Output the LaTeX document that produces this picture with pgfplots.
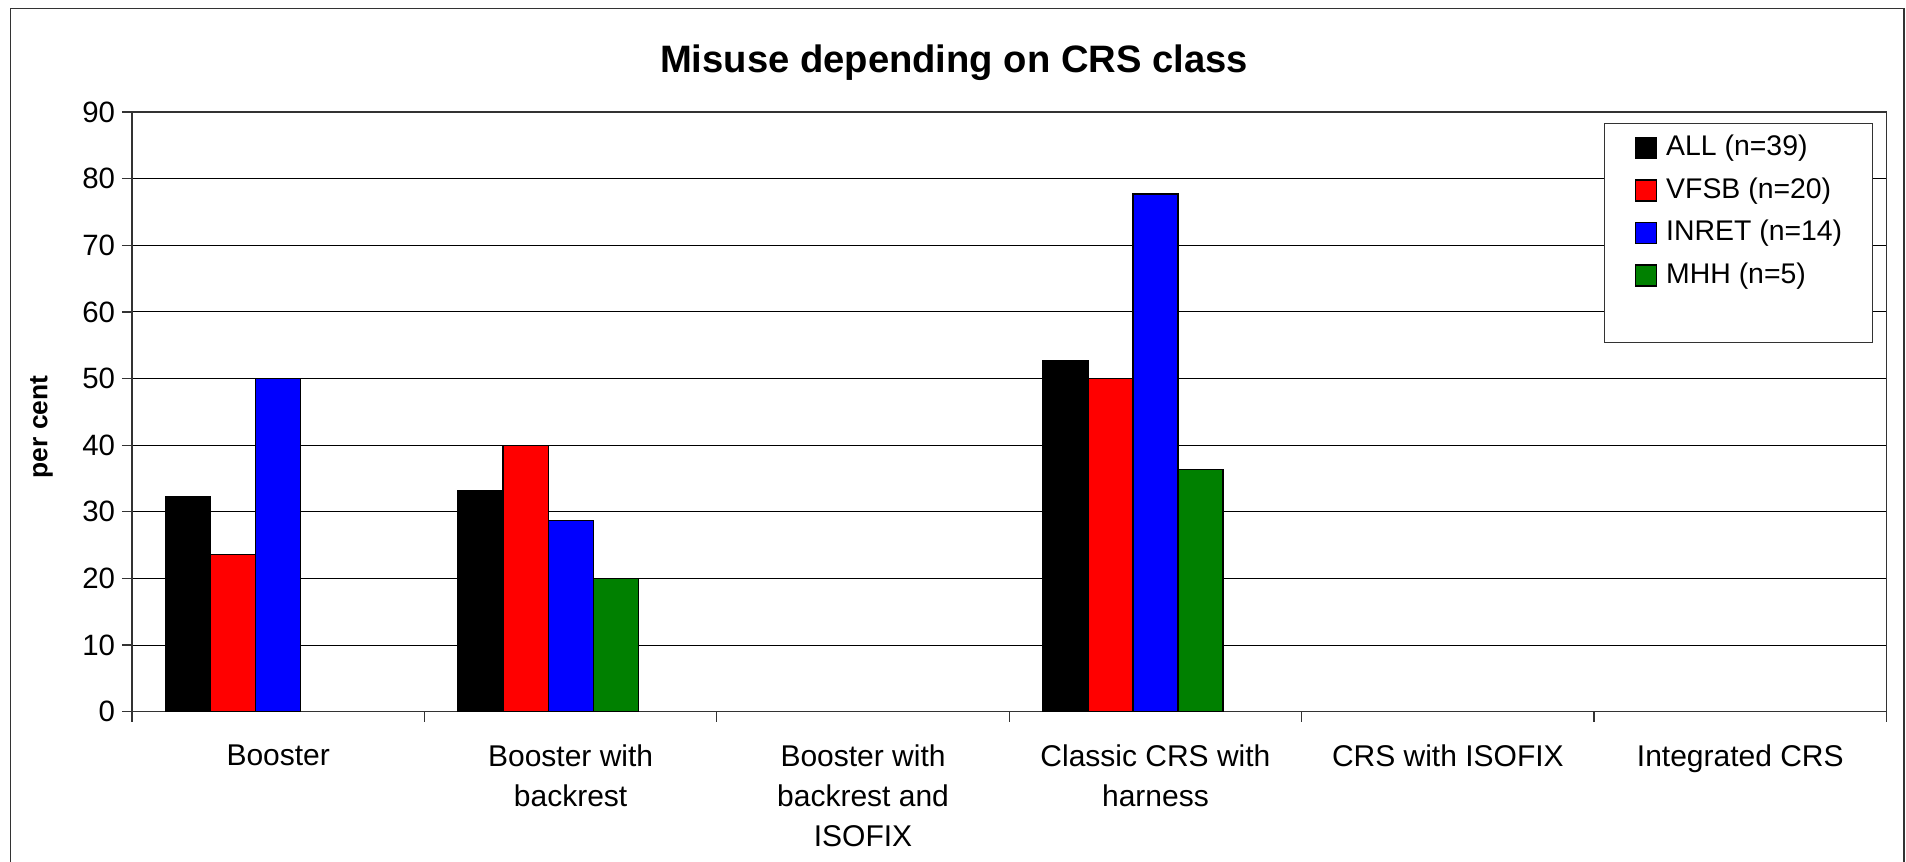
\documentclass[border=0pt]{standalone}
\usepackage{pgfplots}
\pgfplotsset{compat=1.18}
\usepackage{fontspec}
\setmainfont{Liberation Sans}
\definecolor{xlgreen}{RGB}{0,128,0}
\definecolor{xlred}{RGB}{255,0,0}
\definecolor{xlblue}{RGB}{0,0,255}
\begin{document}
\begin{tikzpicture}
\useasboundingbox (0,0) rectangle (953bp,431bp);
\draw[line width=0.8bp, black!80] (5.3bp,0) -- (5.3bp,426.8bp) -- (952bp,426.8bp) -- (952bp,0);
\node[font=\fontsize{19.1bp}{22bp}\selectfont\bfseries, anchor=base] at (477bp,394.5bp) {Misuse depending on CRS class};
\begin{axis}[
  at={(66bp,75.15bp)}, anchor=south west,
  scale only axis, width=877.25bp, height=299.85bp,
  xmin=-0.5, xmax=5.5, ymin=0, ymax=90,
  ybar, bar width=0.154,
  ytick={0,10,...,90},
  xtick={0,...,5},
  xticklabels={Booster, Booster with\\backrest, Booster with\\backrest and\\ISOFIX, Classic CRS with\\harness, CRS with ISOFIX, Integrated CRS},
  minor xtick={-0.5,0.5,...,5.5},
  major x tick style={draw=none},
  tick align=outside, major tick length=5bp, minor tick length=5bp,
  xtick pos=bottom, ytick pos=left,
  ymajorgrids, grid style={black, line width=0.5bp},
  axis line style={black!80, line width=0.7bp},
  tick style={black!80, line width=0.6bp},
  /pgf/number format/assume math mode=true,
  yticklabel style={font=\fontsize{14.7bp}{20bp}\selectfont},
  xticklabel style={font=\fontsize{15bp}{20bp}\selectfont, align=center, yshift=-8bp},
  ylabel={per cent},
  every axis y label/.style={at={(axis description cs:-0.0516,0.4747)}, rotate=90, anchor=center, font=\fontsize{13.2bp}{15bp}\selectfont\bfseries},
  legend style={at={(axis description cs:0.839,0.9817)}, anchor=north west,
    draw=black!80, line width=0.6bp, font=\fontsize{14.2bp}{16bp}\selectfont,
    inner xsep=15bp, inner ysep=5.5bp, row sep=7.75bp, cells={anchor=west},
    nodes={inner sep=0bp, text height=10.5bp, text depth=3bp},
    /tikz/every odd column/.append style={column sep=4.7bp}},
  legend image code/.code={\draw[#1, draw=black, line width=0.6bp] (0bp,-5.25bp) rectangle (10.5bp,5.25bp);},
]
\addplot[fill=black, draw=black, line width=0.6bp, bar shift=-0.308] coordinates {(0,32.3) (1,33.2) (3,52.7)};
\addlegendentry{ALL (n=39)}
\addplot[fill=xlred, draw=black, line width=0.6bp, bar shift=-0.154] coordinates {(0,23.6) (1,40.0) (3,50.0)};
\addlegendentry{VFSB (n=20)}
\addplot[fill=xlblue, draw=black, line width=0.6bp, bar shift=0] coordinates {(0,50.0) (1,28.7) (3,77.7)};
\addlegendentry{INRET (n=14)}
\addplot[fill=xlgreen, draw=black, line width=0.6bp, bar shift=0.154] coordinates {(1,20.0) (3,36.4)};
\addlegendentry{MHH (n=5)}
\addlegendimage{empty legend}
\addlegendentry{~}
\end{axis}
\end{tikzpicture}
\end{document}
